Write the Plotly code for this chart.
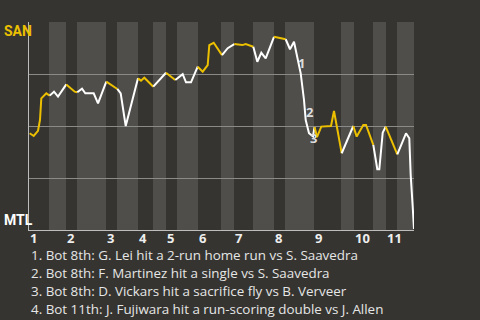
import plotly.graph_objects as go

# ---- data ----
# game progress (0..385 units) and SAN win probability (%)
progress = [0.7, 4.7, 9.0, 11.0, 12.3, 17.3, 20.7, 25.0, 29.0, 37.3,
            45.7, 48.3, 53.0, 56.3, 64.7, 69.0, 77.3, 88.3, 91.7, 96.7,
            102.3, 109.0, 112.0, 115.3, 124.3, 128.7, 137.0, 146.3, 153.7, 157.0,
            162.0, 168.7, 173.7, 178.7, 180.3, 184.7, 193.0, 198.7, 205.3, 213.3,
            216.7, 224.3, 228.3, 232.3, 236.7, 245.0, 256.7, 261.0, 265.0, 268.3,
            271.7, 275.0, 276.7, 280.0, 284.0, 285.5, 288.0, 292.3, 302.0, 305.0,
            312.7, 324.3, 327.7, 334.3, 337.0, 344.3, 348.3, 350.3, 353.7, 356.7,
            368.3, 377.0, 380.3, 381.7, 383.7, 385.0]
san_wp = [46.5, 45.2, 47.7, 52.9, 63.3, 65.7, 64.6, 66.5, 64.1, 70.0,
          66.5, 66.2, 67.9, 65.7, 65.7, 60.9, 71.3, 67.8, 65.7, 50.0,
          60.9, 72.9, 71.8, 73.2, 68.9, 71.3, 75.6, 72.1, 74.9, 71.0,
          71.0, 78.5, 76.1, 79.3, 88.9, 90.0, 84.1, 87.4, 89.4, 88.9,
          89.4, 88.1, 80.9, 85.2, 82.5, 92.9, 91.7, 86.9, 90.5, 83.3,
          75.3, 62.5, 52.9, 46.5, 45.0, 49.5, 44.7, 49.7, 50.0, 57.2,
          36.9, 50.0, 44.9, 50.5, 50.5, 40.9, 29.2, 29.2, 46.8, 49.7,
          36.4, 46.5, 44.1, 26.4, 11.2, 0.5]

# half-inning boundaries (top half, bottom half alternately)
half_edges = [0, 20, 37, 48, 77, 88, 109, 124, 137, 148, 169, 192, 205,
              224, 245, 256, 285, 312, 325, 344, 357, 368, 385]
inning_labels = ["1", "2", "3", "4", "5", "6", "7", "8", "9", "10", "11"]

# key events
event_ids = ["1", "2", "3", "4"]
event_x = [272.5, 281.0, 284.5, 388.5]
event_y = [80.3, 56.7, 44.2, 18.8]
event_text = [
    "1. Bot 8th: G. Lei hit a 2-run home run vs S. Saavedra",
    "2. Bot 8th: F. Martinez hit a single vs S. Saavedra",
    "3. Bot 8th: D. Vickars hit a sacrifice fly vs B. Verveer",
    "4. Bot 11th: J. Fujiwara hit a run-scoring double vs J. Allen",
]
teams = ["SAN", "MTL"]

# ---- style ----
BG = "#353430"
LIGHT = "#4f4e4b"
YELLOW = "#ecc000"
WHITE = "#ffffff"
FONT = "Open Sans"
LABFONT = "Liberation Sans Narrow, Roboto"

fig = go.Figure()

# split line into runs by half-inning (top = SAN batting = yellow)
def band_index(x):
    for i in range(len(half_edges) - 1):
        if half_edges[i] <= x < half_edges[i + 1]:
            return i
    return len(half_edges) - 2

runs = []
for i in range(len(progress) - 1):
    mid = (progress[i] + progress[i + 1]) / 2
    col = YELLOW if band_index(mid) % 2 == 0 else WHITE
    if runs and runs[-1][0] == col:
        runs[-1][1].append(i + 1)
    else:
        runs.append([col, [i, i + 1]])

for col, idx in runs:
    fig.add_trace(go.Scatter(
        x=[progress[k] for k in idx], y=[san_wp[k] for k in idx],
        mode="lines", line=dict(color=col, width=2),
        hoverinfo="skip", showlegend=False))

# light bands for bottom halves
for i in range(1, len(half_edges) - 1, 2):
    fig.add_shape(type="rect", xref="x", yref="paper",
                  x0=half_edges[i], x1=half_edges[i + 1], y0=0, y1=1,
                  fillcolor=LIGHT, line_width=0, layer="below")

annotations = []
# inning labels, at start of each inning
for j, lab in enumerate(inning_labels):
    annotations.append(dict(x=half_edges[2 * j], y=0, xref="x", yref="paper",
                            text=f"<b>{lab}</b>", showarrow=False,
                            xanchor="left", yanchor="top", yshift=3, xshift=-1,
                            font=dict(family=FONT, size=13, color="#eeeeee")))
# team labels
annotations.append(dict(x=-27 / 385, y=1, xref="paper", yref="paper", text=f"<b>{teams[0]}</b>",
                        showarrow=False, xanchor="left", yanchor="top", yshift=1,
                        font=dict(family=LABFONT, size=14, color=YELLOW)))
annotations.append(dict(x=-27 / 385, y=0, xref="paper", yref="paper", text=f"<b>{teams[1]}</b>",
                        showarrow=False, xanchor="left", yanchor="bottom", yshift=0,
                        font=dict(family=LABFONT, size=14, color=WHITE)))
# event markers
for eid, ex, ey in zip(event_ids, event_x, event_y):
    annotations.append(dict(x=ex, y=ey, xref="x", yref="y", text=f"<b>{eid}</b>",
                            showarrow=False, xanchor="center", yanchor="middle",
                            font=dict(family=FONT, size=13, color="#dddddd")))
# event descriptions
for k, t in enumerate(event_text):
    annotations.append(dict(x=0, y=0, xref="paper", yref="paper", text=t,
                            showarrow=False, xanchor="left", yanchor="middle",
                            xshift=0, yshift=-25 - 18 * k,
                            font=dict(family=FONT, size=13.4, color="#e6e6e6")))

fig.update_layout(
    width=480, height=320,
    margin=dict(l=29, r=66, t=22, b=90),
    paper_bgcolor=BG, plot_bgcolor=BG,
    annotations=annotations,
    xaxis=dict(range=[0, 385], showgrid=False, zeroline=False,
               showticklabels=False, ticks="", showline=True,
               linecolor="#bdbdbd", linewidth=1, mirror=False),
    yaxis=dict(range=[0, 100], tickvals=[0, 25, 50, 75, 100], showticklabels=False,
               showgrid=True, gridcolor="#8a8a88", gridwidth=1, zeroline=False,
               showline=True, linecolor="#bdbdbd", linewidth=1, ticks=""),
)

fig.write_html("out.html")
